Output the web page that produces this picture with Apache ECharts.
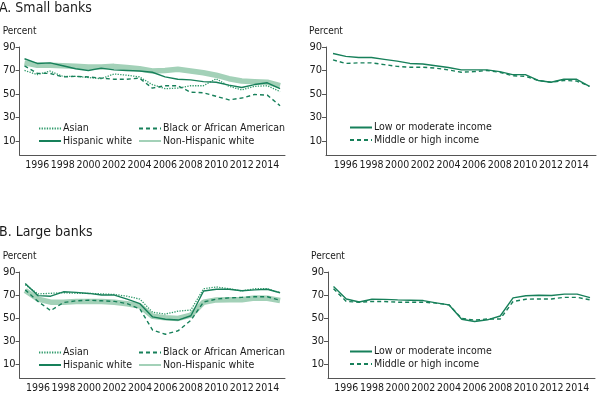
<!DOCTYPE html>
<html>
<head>
<meta charset="utf-8">
<script src="https://cdn.jsdelivr.net/npm/echarts@6/dist/echarts.min.js"></script>
<style>
html,body{margin:0;padding:0;background:#fff;}
#c{width:600px;height:394px;}
</style>
</head>
<body>
<div id="c"></div>
<script>
// ---------- DATA ----------
const years = [1995,1996,1997,1998,1999,2000,2001,2002,2003,2004,2005,2006,2007,2008,2009,2010,2011,2012,2013,2014,2015];
const xTickLabels = [1996,1998,2000,2002,2004,2006,2008,2010,2012,2014];
const yTickLabels = [10,30,50,70,90];

// A. Small banks, by race/ethnicity
const smallAsian      = [70,66.5,69.5,65,65,64,63,67,66,64.5,58,54.5,55,57,57,63,56.5,53.5,56.5,57,52];
const smallBlack      = [74,67.5,67.5,64.5,65,64.5,63.5,62.5,62.5,63.5,55,57,57,51.5,51,48,45,46.5,49.5,49,40];
const smallHispanic   = [80,76,76.5,74,71.5,70,72,70.5,70,69.5,68.5,64.5,62.5,62,60.5,60,57.5,55.5,58,59.5,54.5];
const smallNonHisp    = [76.5,74.5,74.5,74,73.5,73,73,73.5,72.5,71.5,69.5,70,71,69.5,68,66,63,61,60.5,60,57];
// A. Small banks, by income
const smallLowMod     = [84.5,82,81,81,79.5,78,76,75.5,74,72.5,70.5,70.5,70.5,69,66.5,66.5,61.5,60,62.5,62.5,56.5];
const smallMidHigh    = [79,76,76.5,76.5,75,73.5,72.8,72.8,72,70.5,68.5,69,70,68.5,65.5,65,61.5,60,61.5,61,56.5];

// B. Large banks, by race/ethnicity
const largeAsian      = [79,71,71.5,72,71.5,71.5,71,70.5,69,66.5,55,53.5,56,57,75.5,77,75.5,73.5,75.5,75.5,72];
const largeBlack      = [74.5,64.5,56.5,63.5,65,65.5,65,64.5,62.5,58,39.5,36,39,48,64,66.5,67.5,68,68.5,68.5,65.5];
const largeHispanic   = [80,69.5,69,72.8,72.3,71.4,70,70,66.5,62.5,51,49,48.3,52,73.5,75,75,73.7,74.5,75,72];
const largeNonHisp    = [74,66.5,63.8,63.8,64.4,64.4,64.4,63.8,62.4,60.5,51.5,50.3,49.7,52.5,63.8,65.8,66,66,67.5,67.2,65.2];
// B. Large banks, by income
const largeLowMod     = [77.5,66.6,64,66.3,66.2,65.8,65.5,65.2,63.2,61.5,49,47,48.5,51.8,67.5,69.4,69.8,69.6,70.8,70.8,67.8];
const largeMidHigh    = [75.5,64.4,63.8,64.4,64.4,63.8,63.8,63.8,63,61.5,49.7,48.3,49.2,49.2,64.4,66.4,66.6,66.6,68,68,65.8];

// ---------- STYLE ----------
const FONT = '"DejaVu Sans"';
const FW = 'condensed';
const DARK = '#17805a';
const DOT  = '#2f9a6a';
const LIGHT = '#a3d1b8';
const TXT = '#1a1a1a';
const AXC = '#555';

const pairs = (vals) => years.map((y, i) => [y, vals[i]]);

function xAx(grid, min, max) {
  return {
    type: 'value', gridIndex: grid, min: min, max: max,
    axisLine: {show: true, onZero: false, lineStyle: {color: AXC, width: 1}},
    axisTick: {show: false},
    splitLine: {show: false},
    axisLabel: {customValues: xTickLabels, hideOverlap: false, color: TXT, fontFamily: FONT, fontWeight: FW,
                fontSize: 10.5, margin: 5, formatter: (v) => String(v)}
  };
}
function yAx(grid) {
  return {
    type: 'value', gridIndex: grid, min: -2, max: 90,
    name: 'Percent', nameLocation: 'end', nameGap: 11,
    nameTextStyle: {color: TXT, fontFamily: FONT, fontWeight: FW, fontSize: 10, align: 'center'},
    axisLine: {show: true, lineStyle: {color: AXC, width: 1}},
    axisTick: {show: true, customValues: yTickLabels, length: 4, lineStyle: {color: AXC}},
    splitLine: {show: false},
    axisLabel: {customValues: yTickLabels, color: TXT, fontFamily: FONT, fontWeight: FW, fontSize: 11, margin: 4}
  };
}
function line(name, vals, idx, kind) {
  const s = {
    name: name, type: 'line', xAxisIndex: idx, yAxisIndex: idx,
    data: pairs(vals), symbol: 'none', smooth: false, animation: false,
    lineStyle: {color: DARK, width: 1.4, type: 'solid'}, itemStyle: {color: DARK}
  };
  if (kind === 'dot')   { s.lineStyle = {color: DOT, width: 1.3, type: [1.3, 1.3]}; s.itemStyle = {color: DOT}; }
  if (kind === 'dash')  { s.lineStyle = {color: DARK, width: 1.4, type: [4, 3]}; }
  if (kind === 'thick') { s.lineStyle = {color: LIGHT, width: 5.5, type: 'solid'}; s.itemStyle = {color: LIGHT}; s.z = 1; }
  return s;
}
function leg(left, top, names) {
  return {
    left: left, top: top, orient: 'vertical', itemGap: 1.5, itemWidth: 22, itemHeight: 12,
    selectedMode: false, padding: 0, data: names,
    itemStyle: {color: 'rgba(0,0,0,0)', borderWidth: 0, opacity: 0},
    textStyle: {color: TXT, fontFamily: FONT, fontWeight: FW, fontSize: 10.5, padding: [0,0,0,-3]}
  };
}

const option = {
  backgroundColor: '#fff',
  animation: false,
  title: [
    {text: 'A. Small banks', left: -1, top: 1, padding: 0,
     textStyle: {color: TXT, fontFamily: FONT, fontSize: 14, fontWeight: FW}},
    {text: 'B. Large banks', left: -1, top: 225, padding: 0,
     textStyle: {color: TXT, fontFamily: FONT, fontSize: 14, fontWeight: FW}}
  ],
  grid: [
    {left: 16,  top: 47,  width: 269, height: 108},
    {left: 326, top: 47,  width: 270, height: 108},
    {left: 16,  top: 272, width: 269, height: 108},
    {left: 328, top: 272, width: 267, height: 108}
  ],
  xAxis: [
    xAx(0, 1994.614, 2015.386),
    xAx(1, 1994.454, 2015.507),
    xAx(2, 1994.559, 2015.387),
    xAx(3, 1994.571, 2015.39)
  ],
  yAxis: [yAx(0), yAx(1), yAx(2), yAx(3)],
  legend: [
    leg(38, 123, ['Asian', 'Hispanic white']),
    leg(138, 123, ['Black or African American', 'Non-Hispanic white']),
    leg(349, 122, ['Low or moderate income', 'Middle or high income']),
    leg(38, 347, ['Asian', 'Hispanic white']),
    leg(138, 347, ['Black or African American', 'Non-Hispanic white']),
    leg(349, 346, ['Low or moderate income', 'Middle or high income'])
  ],
  series: [
    line('Non-Hispanic white', smallNonHisp, 0, 'thick'),
    line('Asian', smallAsian, 0, 'dot'),
    line('Black or African American', smallBlack, 0, 'dash'),
    line('Hispanic white', smallHispanic, 0, 'solid'),
    line('Low or moderate income', smallLowMod, 1, 'solid'),
    line('Middle or high income', smallMidHigh, 1, 'dash'),
    line('Non-Hispanic white', largeNonHisp, 2, 'thick'),
    line('Asian', largeAsian, 2, 'dot'),
    line('Black or African American', largeBlack, 2, 'dash'),
    line('Hispanic white', largeHispanic, 2, 'solid'),
    line('Low or moderate income', largeLowMod, 3, 'solid'),
    line('Middle or high income', largeMidHigh, 3, 'dash')
  ]
};

const chart = echarts.init(document.getElementById('c'), null, {renderer: 'canvas'});
chart.setOption(option);
</script>
</body>
</html>
